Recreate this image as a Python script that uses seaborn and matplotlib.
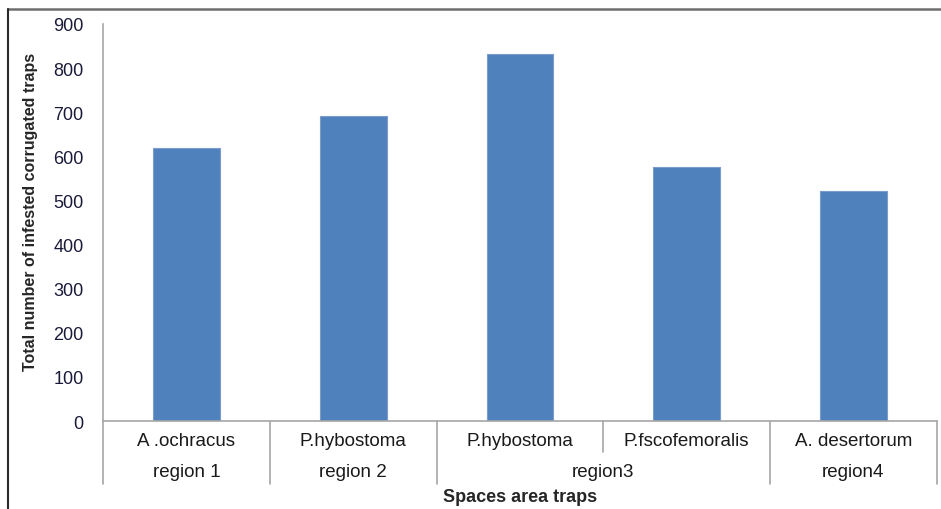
import matplotlib.pyplot as plt
import matplotlib.transforms as mtransforms
from matplotlib.lines import Line2D
import pandas as pd
import seaborn as sns

# data
species = ['A .ochracus', 'P.hybostoma', 'P.hybostoma', 'P.fscofemoralis', 'A. desertorum']
regions = ['region 1', 'region 2', 'region3', 'region3', 'region4']
counts = [620, 692, 833, 575, 522]

df = pd.DataFrame({'pos': range(len(counts)), 'count': counts})

sns.set_style('white')
plt.rcParams['font.family'] = ['Liberation Sans', 'DejaVu Sans']

fig = plt.figure(figsize=(9.41, 5.10), dpi=100)
ax = fig.add_axes([0.1095, 0.1725, 0.886, 0.7785])

sns.barplot(data=df, x='pos', y='count', color='#4F81BD', saturation=1,
            width=0.4, edgecolor='#7A9CCB', linewidth=0.8, ax=ax)

ax.set_xlim(-0.5, len(counts) - 0.5)
ax.set_ylim(0, 900)
ax.set_yticks(range(0, 901, 100))
ax.set_yticklabels([str(v) for v in range(0, 901, 100)], fontsize=13, color='#1a1a3a')
ax.set_xticks([])
ax.set_xlabel('')
ax.set_ylabel('Total number of infested corrugated traps', fontsize=11.5,
              fontweight='bold')
ax.yaxis.set_label_coords(-0.078, 0.53)

for s in ['top', 'right']:
    ax.spines[s].set_visible(False)
for s in ['left', 'bottom']:
    ax.spines[s].set_color('#a6a6a6')
    ax.spines[s].set_linewidth(1.2)
ax.tick_params(axis='y', direction='out', length=6, width=1.2, color='#a6a6a6', pad=8)

# hierarchical category axis
trans = mtransforms.blended_transform_factory(ax.transData, ax.transAxes)
line_kw = dict(color='#a6a6a6', linewidth=1.2, transform=trans, clip_on=False)
n = len(counts)
for i in range(n + 1):
    b = i - 0.5
    is_region_edge = i in (0, n) or regions[i - 1] != regions[i]
    low = -0.159 if is_region_edge else -0.078
    ax.add_line(Line2D([b, b], [0, low], **line_kw))

for i, sp in enumerate(species):
    ax.text(i, -0.048, sp, transform=trans, ha='center', va='center',
            fontsize=13.5, color='#1a1a1a')

seen = []
for r in regions:
    if r not in seen:
        seen.append(r)
for r in seen:
    idx = [i for i, rr in enumerate(regions) if rr == r]
    xc = (idx[0] + idx[-1]) / 2
    ax.text(xc, -0.128, r, transform=trans, ha='center', va='center',
            fontsize=13.5, color='#1a1a1a')

ax.text(0.5, -0.19, 'Spaces area traps', transform=ax.transAxes, ha='center',
        va='center', fontsize=13, fontweight='bold')

# chart area border (top and left edges visible)
fig.add_artist(Line2D([8 / 941, 1.0], [1 - 10 / 510, 1 - 10 / 510],
                      transform=fig.transFigure, color='#6e6e6e', linewidth=1.8))
fig.add_artist(Line2D([8 / 941, 8 / 941], [1 - 10 / 510, 0.0],
                      transform=fig.transFigure, color='#2a2a2a', linewidth=1.5))

fig.savefig('out.png', dpi=100)
